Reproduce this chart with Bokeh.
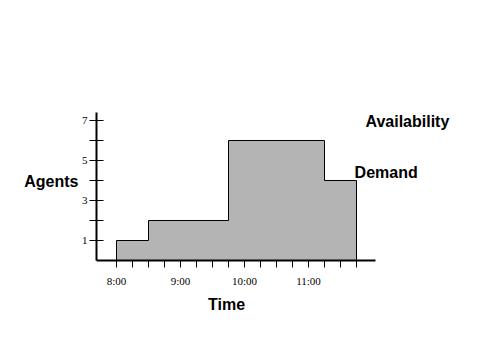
from bokeh.plotting import figure
from bokeh.models import Range1d, FixedTicker, Label, LinearAxis
from bokeh.embed import file_html
from bokeh.resources import INLINE

# Data (time in decimal hours)
step_starts = [8.0, 8.5, 9.75, 11.25]
step_ends = [8.5, 9.75, 11.25, 11.75]
agents = [1, 2, 6, 4]

x_ticks = [8.0, 8.25, 8.5, 8.75, 9.0, 9.25, 9.5, 9.75, 10.0, 10.25, 10.5, 10.75, 11.0, 11.25, 11.5, 11.75]
x_tick_labels = {8.0: "8:00", 9.0: "9:00", 10.0: "10:00", 11.0: "11:00"}
y_ticks = [1, 2, 3, 4, 5, 6, 7]
y_tick_labels = {1: "1", 3: "3", 5: "5", 7: "7"}

x_axis_extent = (7.6875, 12.047)
y_axis_extent = (0, 7.4)

# Build step outline polygon from the data
xs, ys = [step_starts[0]], [0]
for s, e, v in zip(step_starts, step_ends, agents):
    xs += [s, e]
    ys += [v, v]
xs.append(step_ends[-1])
ys.append(0)

p = figure(width=480, height=360, output_backend="svg", toolbar_location=None,
           x_range=Range1d(7.6875, 13.6875), y_range=Range1d(0, 7.4),
           min_border_left=96, min_border_right=0, min_border_top=112, min_border_bottom=100)
p.outline_line_color = None
p.xgrid.visible = False
p.ygrid.visible = False
p.background_fill_color = "white"
p.border_fill_color = "white"

p.patch(xs, ys, fill_color="#b4b4b4", line_color="black", line_width=1)

for ax in (p.xaxis[0], p.yaxis[0]):
    ax.axis_line_width = 2
    ax.axis_line_color = "black"
    ax.major_tick_line_color = "black"
    ax.major_tick_line_width = 1
    ax.minor_tick_line_color = None
    ax.major_label_text_font = "Liberation Serif"
    ax.major_label_text_font_size = "11px"
    ax.major_label_text_color = "black"

p.xaxis.bounds = x_axis_extent
p.xaxis.ticker = FixedTicker(ticks=x_ticks)
p.xaxis.major_label_overrides = {t: x_tick_labels.get(t, "") for t in x_ticks}
p.xaxis.major_tick_in = 0
p.xaxis.major_tick_out = 7
p.xaxis.major_label_standoff = 7

p.yaxis.bounds = y_axis_extent
p.yaxis.ticker = FixedTicker(ticks=y_ticks)
p.yaxis.major_label_overrides = {t: y_tick_labels.get(t, "") for t in y_ticks}
p.yaxis.major_tick_in = 7
p.yaxis.major_tick_out = 7
p.yaxis.major_label_standoff = 2


def title_axis(label, pos, standoff):
    ax = LinearAxis(ticker=FixedTicker(ticks=[pos]),
                    major_label_overrides={pos: label},
                    axis_line_color=None, major_tick_line_color=None,
                    minor_tick_line_color=None,
                    major_tick_in=0, major_tick_out=0,
                    major_label_standoff=standoff,
                    major_label_text_font="Liberation Sans",
                    major_label_text_font_style="bold",
                    major_label_text_font_size="16px",
                    major_label_text_color="black")
    return ax

p.add_layout(title_axis("Time", 9.719, 6), "below")
p.add_layout(title_axis("Agents", 3.95, 0), "left")


def add_label(x, y, text):
    p.add_layout(Label(x=x, y=y, text=text, text_font="Liberation Sans",
                       text_font_style="bold", text_font_size="16px",
                       text_color="black", text_baseline="middle", text_align="left"))

add_label(11.89, 6.95, "Availability")
add_label(11.72, 4.4, "Demand")

open("out.html", "w").write(file_html(p, INLINE))
